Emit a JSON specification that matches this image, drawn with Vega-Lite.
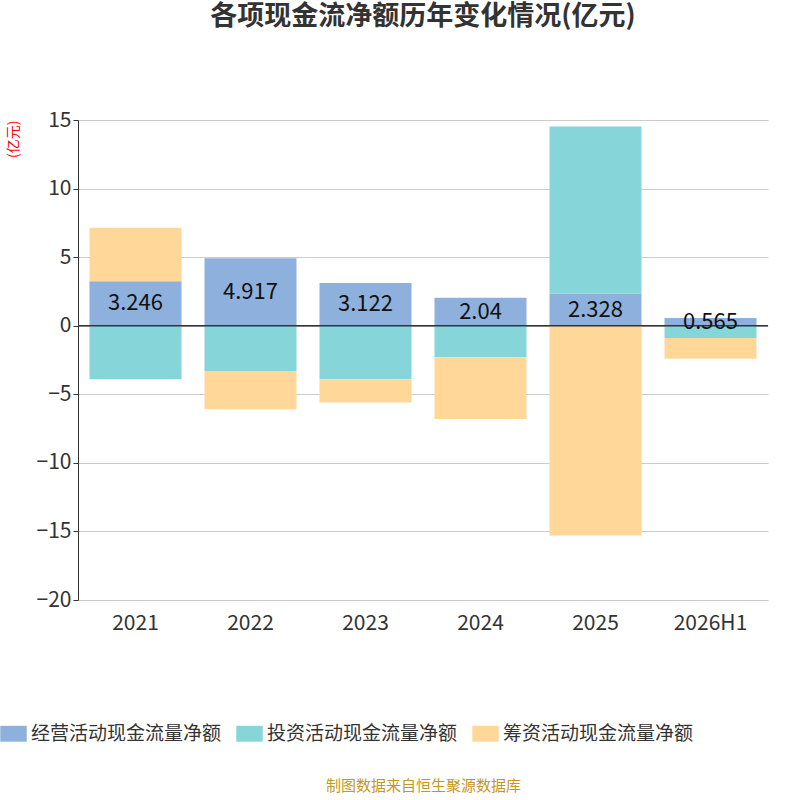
{
"$schema":"https://vega.github.io/schema/vega-lite/v6.json",
"width":690,"height":480,"autosize":"none",
"padding":{"left":78,"top":120,"right":32,"bottom":200},
"config":{"font":"Noto Sans CJK SC","view":{"stroke":null}},
"title":{"text":"各项现金流净额历年变化情况(亿元)","fontSize":27,"fontWeight":"bold","color":"#333","offset":78,"anchor":"middle"},
"datasets":{"bars":[
{"year":"2021","type":"经营活动现金流量净额","o":1,"v":3.246},
{"year":"2021","type":"投资活动现金流量净额","o":2,"v":-3.9},
{"year":"2021","type":"筹资活动现金流量净额","o":3,"v":3.9},
{"year":"2022","type":"经营活动现金流量净额","o":1,"v":4.917},
{"year":"2022","type":"投资活动现金流量净额","o":2,"v":-3.3},
{"year":"2022","type":"筹资活动现金流量净额","o":3,"v":-2.8},
{"year":"2023","type":"经营活动现金流量净额","o":1,"v":3.122},
{"year":"2023","type":"投资活动现金流量净额","o":2,"v":-3.9},
{"year":"2023","type":"筹资活动现金流量净额","o":3,"v":-1.7},
{"year":"2024","type":"经营活动现金流量净额","o":1,"v":2.04},
{"year":"2024","type":"投资活动现金流量净额","o":2,"v":-2.3},
{"year":"2024","type":"筹资活动现金流量净额","o":3,"v":-4.5},
{"year":"2025","type":"经营活动现金流量净额","o":1,"v":2.328},
{"year":"2025","type":"投资活动现金流量净额","o":2,"v":12.2},
{"year":"2025","type":"筹资活动现金流量净额","o":3,"v":-15.3},
{"year":"2026H1","type":"经营活动现金流量净额","o":1,"v":0.565},
{"year":"2026H1","type":"投资活动现金流量净额","o":2,"v":-0.9},
{"year":"2026H1","type":"筹资活动现金流量净额","o":3,"v":-1.5}
]},
"layer":[
{"data":{"name":"bars"},"mark":{"type":"bar","width":92},
 "encoding":{
  "x":{"field":"year","type":"nominal","sort":null,"title":"制图数据来自恒生聚源数据库",
   "axis":{"labelFontSize":21,"labelColor":"#333","labelAngle":0,"labelPadding":12,"domain":false,"ticks":false,"titlePadding":145,"titleFontSize":15,"titleFontWeight":"normal","titleColor":"#C8961E"}},
  "y":{"field":"v","type":"quantitative","stack":"zero","scale":{"domain":[-20,15],"nice":false},
   "title":"(亿元)","axis":{"values":[-20,-15,-10,-5,0,5,10,15],"labelFontSize":21,"labelColor":"#333","domainColor":"#333","tickColor":"#333","gridColor":"#ccc","titleColor":"red","titleFontSize":14,"titleFontWeight":"normal","titleAngle":-90,"titleAnchor":"end","titleAlign":"right","titleBaseline":"bottom","titleY":0,"titleX":-58}},
  "order":{"field":"o"},
  "color":{"field":"type","type":"nominal","sort":["经营活动现金流量净额","投资活动现金流量净额","筹资活动现金流量净额"],
   "scale":{"range":["#8EB0DC","#86D5D8","#FFD899"]},
   "legend":{"orient":"none","legendX":-78,"legendY":600,"direction":"horizontal","title":null,"labelFontSize":19,"labelColor":"#333","symbolType":"M-1,-0.6H1V0.6H-1Z","symbolSize":700,"symbolStrokeWidth":0,"symbolOpacity":1,"columnPadding":14,"labelLimit":200}}
 }},
{"data":{"values":[{"z":0}]},"mark":{"type":"rule","color":"#333","strokeWidth":1.5},"encoding":{"y":{"field":"z","type":"quantitative"}}},
{"data":{"name":"bars"},"transform":[{"filter":"datum.o==1"},{"calculate":"datum.v/2","as":"mid"}],
 "mark":{"type":"text","fontSize":22,"color":"#111"},
 "encoding":{"x":{"field":"year","type":"nominal","sort":null},"y":{"field":"mid","type":"quantitative"},"text":{"field":"v"}}}
]
}
